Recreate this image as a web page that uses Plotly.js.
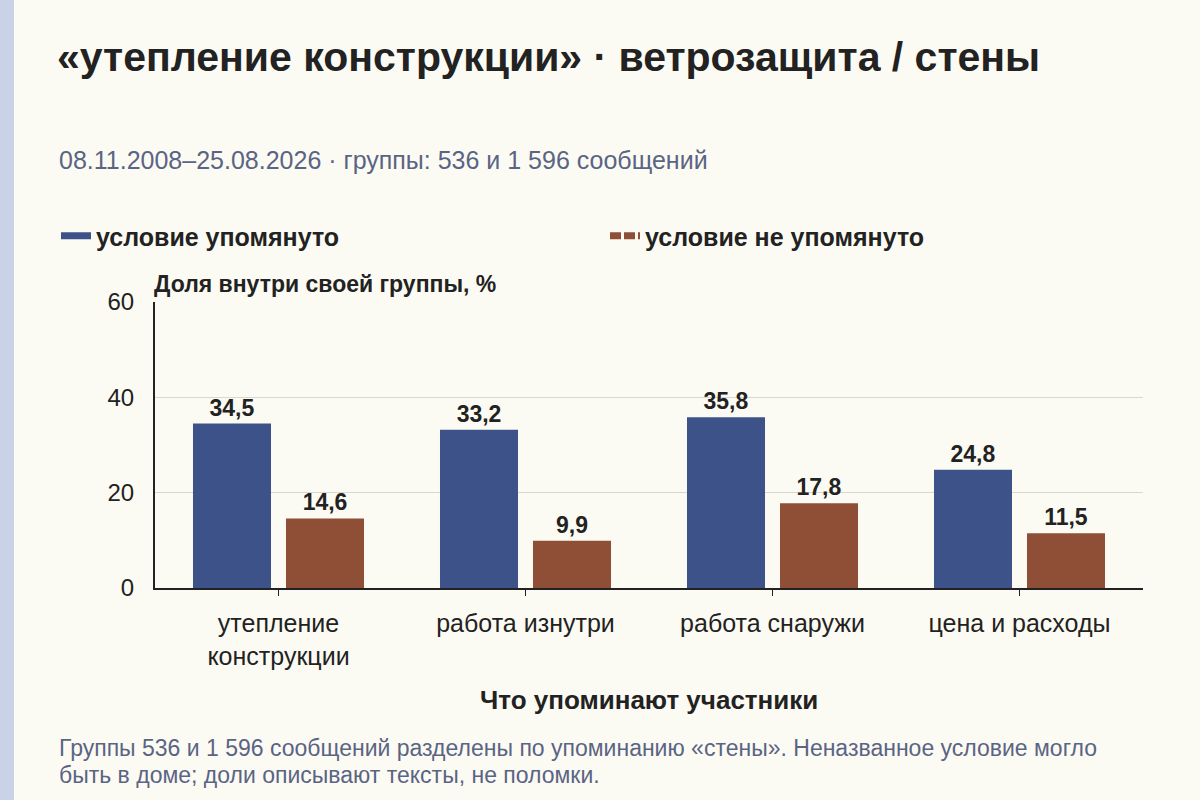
<!DOCTYPE html>
<html>
<head>
<meta charset="utf-8">
<script src="https://cdn.plot.ly/plotly-3.0.1.min.js"></script>
<style>
  html, body { margin: 0; padding: 0; background: #fcfbf3; }
  #chart { width: 1200px; height: 800px; }
</style>
</head>
<body>
<div id="chart"></div>
<script>
const categories = ['утепление<br>конструкции', 'работа изнутри', 'работа снаружи', 'цена и расходы'];
const mentioned = [34.5, 33.2, 35.8, 24.8];
const notMentioned = [14.6, 9.9, 17.8, 11.5];
const seriesNames = ['условие упомянуто', 'условие не упомянуто'];

const blue = '#3c5288';
const brown = '#8f4f37';
const ink = '#222222';
const muted = '#5a6484';
const font = 'Liberation Sans, Arial, sans-serif';

// plot area in pixels: x 155..1143, y 302..588
const L = 155, R = 57, T = 302, B = 212;
const pw = 1200 - L - R, ph = 800 - T - B;
const px = x => (x - L) / pw;
const py = y => (800 - B - y) / ph;

const barStyle = {
    type: 'bar',
    x: categories,
    texttemplate: '%{y:.1f}',
    textposition: 'outside',
    cliponaxis: false,
    textfont: {family: font, size: 23, color: ink, weight: 'bold'},
    showlegend: false,
    hoverinfo: 'skip'
};

var data = [
    Object.assign({}, barStyle, {y: mentioned, name: seriesNames[0], marker: {color: blue}}),
    Object.assign({}, barStyle, {y: notMentioned, name: seriesNames[1], marker: {color: brown}}),
    // legend-only keys drawn as short lines
    {type: 'scatter', mode: 'lines', x: [null], y: [null], name: seriesNames[0],
     line: {color: blue, width: 7}},
    {type: 'scatter', mode: 'lines', x: [null], y: [null], name: seriesNames[1],
     line: {color: brown, width: 7, dash: '11px,3px'}}
];

var layout = {
    width: 1200,
    height: 800,
    margin: {l: L, r: R, t: T, b: B},
    paper_bgcolor: '#fcfbf3',
    plot_bgcolor: '#fcfbf3',
    font: {family: font, color: ink},
    separators: ', ',
    barmode: 'group',
    bargap: 0.247,
    bargroupgap: 0.161,
    title: {
        text: '<b>«утепление конструкции» · ветрозащита / стены</b>',
        font: {family: font, size: 41, color: ink},
        xref: 'container', x: 57 / 1200, xanchor: 'left',
        yref: 'container', y: 1 - 57 / 800, yanchor: 'middle'
    },
    legend: {
        orientation: 'h',
        x: px(56), xanchor: 'left',
        y: py(236), yanchor: 'middle',
        entrywidth: 504, entrywidthmode: 'pixels',
        bgcolor: 'rgba(0,0,0,0)',
        font: {family: font, size: 25, color: ink, weight: 'bold'}
    },
    xaxis: {
        showline: true, linecolor: ink, linewidth: 2,
        ticks: 'outside', ticklen: 6, tickcolor: ink, tickwidth: 1,
        ticklabelstandoff: 6,
        tickfont: {family: font, size: 25, color: ink},
        showgrid: false,
        fixedrange: true
    },
    yaxis: {
        range: [0, 60], dtick: 20,
        showline: true, linecolor: ink, linewidth: 2,
        showgrid: true, gridcolor: '#dad7cf', gridwidth: 1.5,
        zeroline: false,
        ticks: '',
        ticklabelstandoff: 14,
        tickfont: {family: font, size: 24, color: ink},
        fixedrange: true
    },
    shapes: [{
        type: 'rect', xref: 'paper', yref: 'paper',
        x0: px(0), x1: px(14), y0: py(800), y1: py(0),
        fillcolor: '#c9d2e7', line: {width: 0}, layer: 'below'
    }],
    annotations: [
        {text: '08.11.2008–25.08.2026 · группы: 536 и 1 596 сообщений',
         xref: 'paper', yref: 'paper', x: px(57), y: py(160),
         xanchor: 'left', yanchor: 'middle', showarrow: false,
         font: {family: font, size: 25, color: muted}},
        {text: '<b>Доля внутри своей группы, %</b>',
         xref: 'paper', yref: 'paper', x: px(152), y: py(284),
         xanchor: 'left', yanchor: 'middle', showarrow: false,
         font: {family: font, size: 23, color: ink}},
        {text: '<b>Что упоминают участники</b>',
         xref: 'paper', yref: 'paper', x: 0.5, y: py(700),
         xanchor: 'center', yanchor: 'middle', showarrow: false,
         font: {family: font, size: 26, color: ink}},
        {text: 'Группы 536 и 1 596 сообщений разделены по упоминанию «стены». Неназванное условие могло',
         xref: 'paper', yref: 'paper', x: px(57), y: py(748),
         xanchor: 'left', yanchor: 'middle', align: 'left', showarrow: false,
         font: {family: font, size: 23, color: muted}},
        {text: 'быть в доме; доли описывают тексты, не поломки.',
         xref: 'paper', yref: 'paper', x: px(57), y: py(775),
         xanchor: 'left', yanchor: 'middle', align: 'left', showarrow: false,
         font: {family: font, size: 23, color: muted}}
    ]
};

Plotly.newPlot('chart', data, layout, {displayModeBar: false, staticPlot: true});
</script>
</body>
</html>
